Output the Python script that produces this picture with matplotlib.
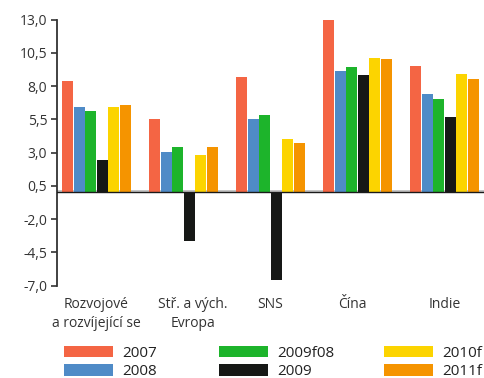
import matplotlib
matplotlib.use("Agg")
import matplotlib.pyplot as plt
from matplotlib.patches import Patch
import numpy as np

plt.rcParams['font.family'] = ['Open Sans', 'DejaVu Sans']

categories = ["Rozvojové\na rozvíjející se", "Stř. a vých.\nEvropa", "SNS", "Čína", "Indie"]
series_names = ["2007", "2008", "2009f08", "2009", "2010f", "2011f"]
v2007 = [8.35, 5.55, 8.65, 13.1, 9.5]
v2008 = [6.4, 3.05, 5.55, 9.1, 7.4]
v2009f08 = [6.15, 3.45, 5.8, 9.4, 7.0]
v2009 = [2.45, -3.65, -6.55, 8.8, 5.7]
v2010f = [6.4, 2.85, 4.0, 10.1, 8.9]
v2011f = [6.55, 3.45, 3.7, 10.0, 8.5]
yticks = [-7.0, -4.5, -2.0, 0.5, 3.0, 5.5, 8.0, 10.5, 13.0]

series = [v2007, v2008, v2009f08, v2009, v2010f, v2011f]
colors = ["#F46544", "#4F8BC7", "#1DB42B", "#161816", "#FCD400", "#F59400"]

fig = plt.figure(figsize=(4.84, 3.78), dpi=100)
ax = fig.add_axes([57/484, 1-285.5/378, 1-57/484, (285.5-19.6)/378])

x = np.arange(len(categories))
pitch = 0.132
width = 0.126
for i, (vals, c) in enumerate(zip(series, colors)):
    ax.bar(x + (i - 2.5) * pitch, vals, width=width, color=c, zorder=2)

ax.axhline(0.08, color="#bbbbbb", lw=1.2, zorder=1)
ax.axhline(0, color="#1a1a1a", lw=1.0, zorder=3)

ax.set_xlim(-0.454, 4.454)
ax.set_ylim(-7, 13)
ax.set_yticks(yticks)
ax.set_yticklabels([f"{t:.1f}".replace(".", ",") for t in yticks])
ax.tick_params(axis='y', direction='out', length=4, width=1.2, color="#333333",
               labelsize=10, labelcolor="#333333", pad=3)
ax.tick_params(axis='x', length=0)
ax.set_xticks([])
for s in ["top", "right", "bottom"]:
    ax.spines[s].set_visible(False)
ax.spines["left"].set_color("#333333")
ax.spines["left"].set_linewidth(1.3)

label_shift = [0.0, 0.11, 0.0, -0.06, 0.0]
for xi, lab, dx in zip(x, categories, label_shift):
    ax.text(xi + dx, -7.9, lab, ha="center", va="top", fontsize=10,
            color="#333333", linespacing=1.35)

# legend: three columns of two entries each
col_left_px = [64, 219, 384]
for col, left in enumerate(col_left_px):
    idx = [2 * col, 2 * col + 1]
    handles = [Patch(facecolor=colors[k], edgecolor="none") for k in idx]
    fig.legend(handles, [series_names[k] for k in idx], ncol=1, loc="upper left",
               bbox_to_anchor=(left/484, 1-346/378), frameon=False, fontsize=11,
               handlelength=3.2, handleheight=0.75, handletextpad=0.6,
               labelspacing=0.22, borderpad=0.0, borderaxespad=0.0,
               labelcolor="#222222")

fig.savefig("out.png", dpi=100)
